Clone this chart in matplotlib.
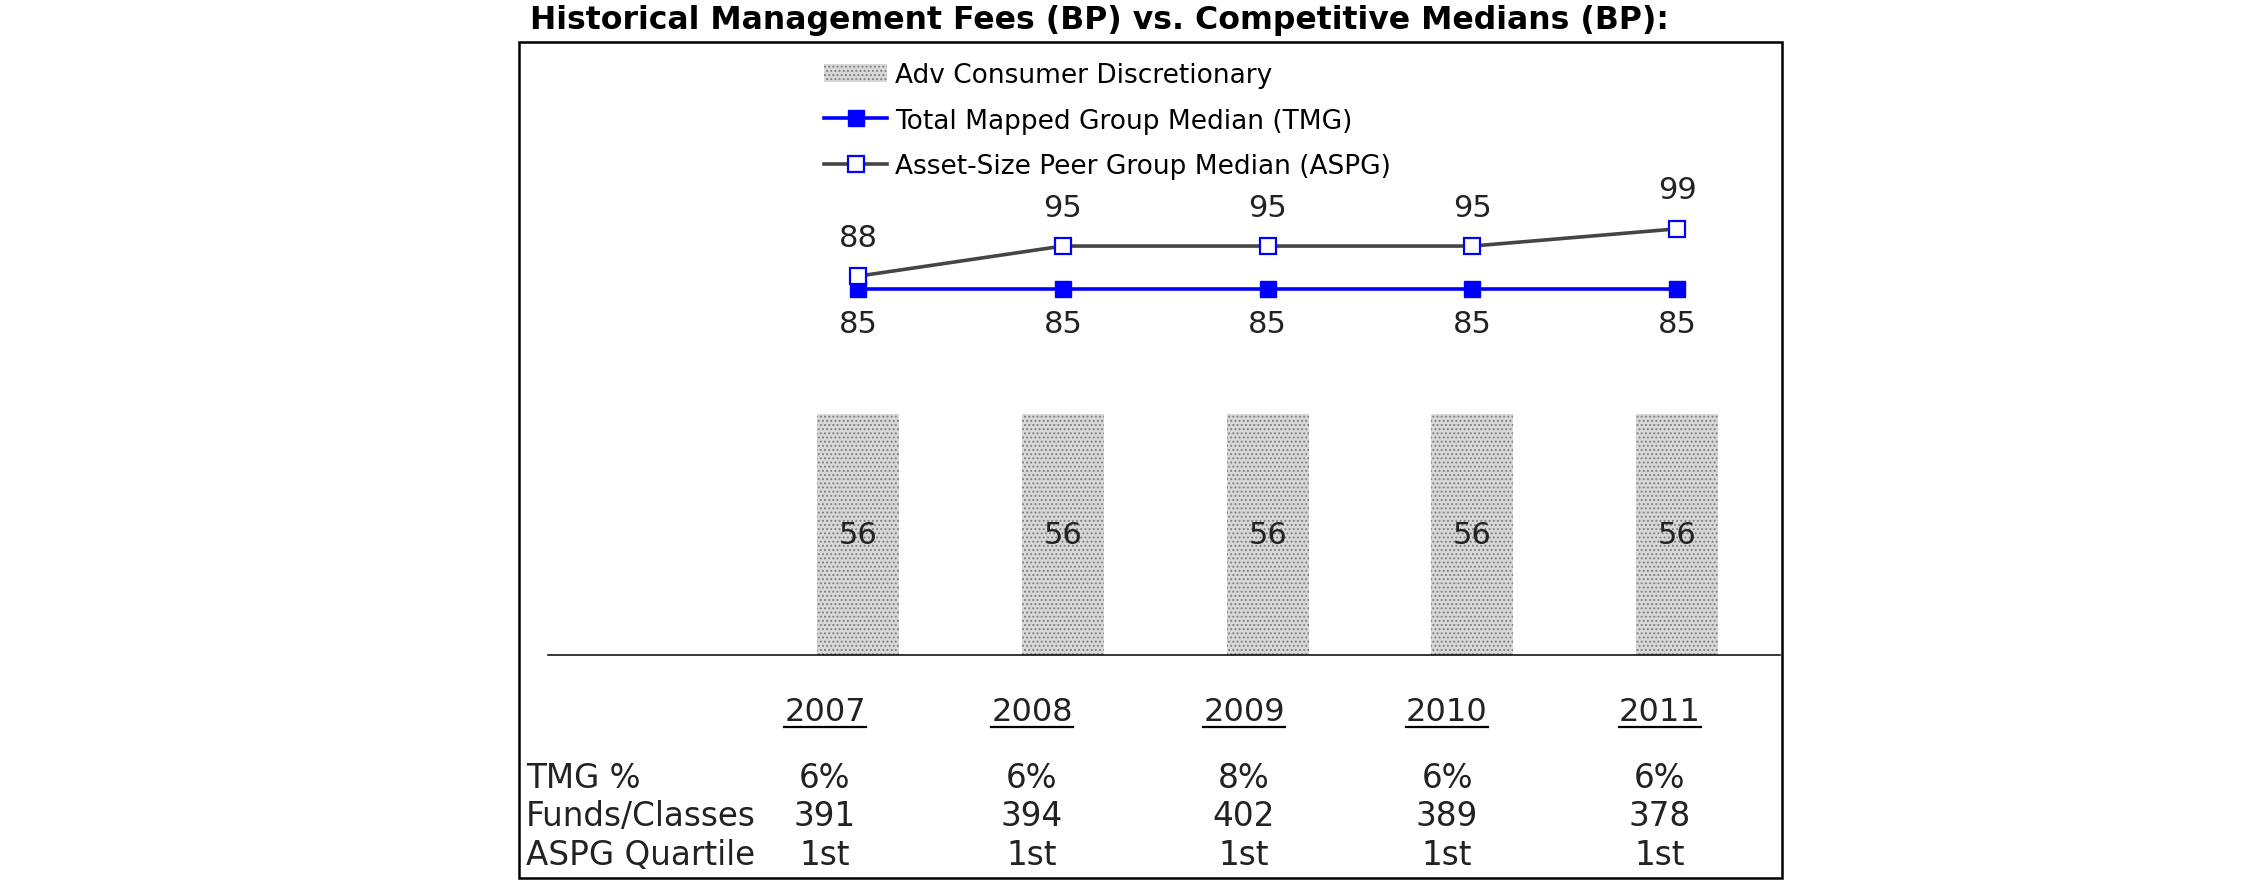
import matplotlib
matplotlib.use('Agg')
import matplotlib.pyplot as plt
from matplotlib.patches import Rectangle
from matplotlib.lines import Line2D

# data
years = ['2007', '2008', '2009', '2010', '2011']
adv_fee = [56, 56, 56, 56, 56]
tmg_median = [85, 85, 85, 85, 85]
aspg_median = [88, 95, 95, 95, 99]
tmg_pct = ['6%', '6%', '8%', '6%', '6%']
funds_classes = ['391', '394', '402', '389', '378']
aspg_quartile = ['1st', '1st', '1st', '1st', '1st']
row_labels = ['TMG %', 'Funds/Classes', 'ASPG Quartile']

W, H = 2250, 895


def fx(px):
    return px / W


def fy(py):
    return 1 - py / H


plt.rcParams['font.family'] = ['DejaVu Sans']
plt.rcParams['hatch.linewidth'] = 0.9
plt.rcParams['hatch.color'] = '#7e7e7e'

fig = plt.figure(figsize=(W / 100, H / 100), dpi=100)

# outer box and title
fig.patches.append(Rectangle((fx(519), fy(879)), fx(1782) - fx(519), fy(43) - fy(879),
                             transform=fig.transFigure, fill=False, edgecolor='black',
                             linewidth=1.8, zorder=0))
fig.text(fx(530), fy(21), 'Historical Management Fees (BP) vs. Competitive Medians (BP):',
         fontsize=22.7, fontweight='bold', ha='left', va='center')

ax = fig.add_axes([fx(548), fy(656), fx(1780) - fx(548), fy(43) - fy(656)])
x = list(range(len(years)))

bars = ax.bar(x, adv_fee, width=0.4, color='#d8d8d8', hatch='....', linewidth=0,
              label='Adv Consumer Discretionary')
ax.bar_label(bars, label_type='center', fontsize=22, color='#222222')

ax.plot(x, tmg_median, color='#0000ff', linewidth=2.6, marker='s', markersize=11,
        markerfacecolor='#0000ff', markeredgecolor='#0000ff',
        label='Total Mapped Group Median (TMG)', zorder=3)
ax.plot(x, aspg_median, color='#454545', linewidth=2.6, marker='s', markersize=11,
        markerfacecolor='white', markeredgecolor='#0000ff', markeredgewidth=1.6,
        label='Asset-Size Peer Group Median (ASPG)', zorder=4)

for xi, v in zip(x, aspg_median):
    ax.annotate(str(v), (xi, v), xytext=(0, 28), textcoords='offset points',
                ha='center', va='center', fontsize=22, color='#222222')
for xi, v in zip(x, tmg_median):
    ax.annotate(str(v), (xi, v), xytext=(0, -25), textcoords='offset points',
                ha='center', va='center', fontsize=22, color='#222222')

ax.set_xlim(-1.514, 4.502)
ax.set_ylim(0, 142.4)
for s in ['top', 'left', 'right']:
    ax.spines[s].set_visible(False)
ax.spines['bottom'].set_linewidth(1.1)
ax.set_xticks([])
ax.set_yticks([])
ax.patch.set_alpha(0)

handles, labels = ax.get_legend_handles_labels()
order = [2, 0, 1]
ax.legend([handles[i] for i in order], [labels[i] for i in order],
          loc='upper left', bbox_to_anchor=(fx(824), fy(63)), bbox_transform=fig.transFigure,
          frameon=False, fontsize=19, handlelength=2.4, handletextpad=0.3,
          labelspacing=0.74, borderaxespad=0, borderpad=0, numpoints=1)

# table under the chart
col_x = [825, 1032, 1244, 1447, 1660]
year_texts = []
for cx, yr in zip(col_x, years):
    year_texts.append(fig.text(fx(cx), fy(713), yr, fontsize=23, ha='center', va='center',
                               color='#222222'))

row_y = [779, 817, 856]
rows = [tmg_pct, funds_classes, aspg_quartile]
for ry, lab, vals in zip(row_y, row_labels, rows):
    fig.text(fx(526), fy(ry), lab, fontsize=23.5, ha='left', va='center', color='#222222')
    for cx, v in zip(col_x, vals):
        fig.text(fx(cx), fy(ry), v, fontsize=23.5, ha='center', va='center', color='#222222')

# underline the years
r = fig.canvas.get_renderer()
for t in year_texts:
    bb = t.get_window_extent(renderer=r)
    fig.add_artist(Line2D([bb.x0 / W, bb.x1 / W], [fy(728), fy(728)],
                          transform=fig.transFigure, color='black', linewidth=1.6))

fig.savefig('out.png', dpi=100)
